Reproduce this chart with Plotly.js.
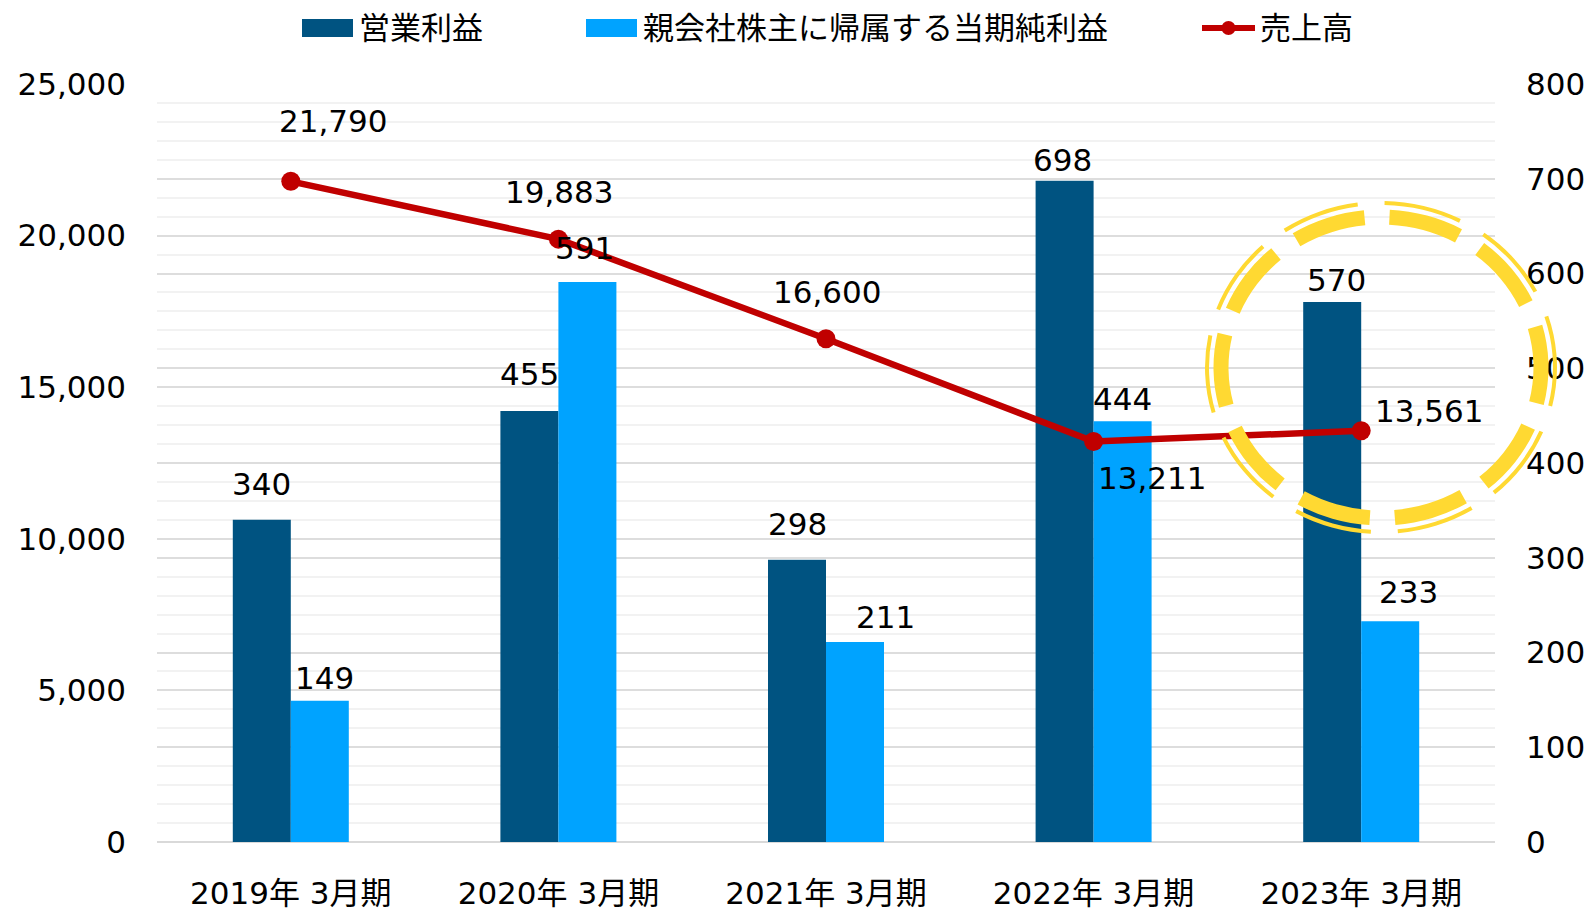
<!DOCTYPE html>
<html>
<head>
<meta charset="utf-8">
<script src="https://cdn.plot.ly/plotly-3.0.1.min.js"></script>
<style>html,body{margin:0;padding:0;background:#fff;}#chart{width:1591px;height:910px;}</style>
</head>
<body>
<div id="chart"></div>
<script>
// ---- data ----
const categories = ['2019年 3月期', '2020年 3月期', '2021年 3月期', '2022年 3月期', '2023年 3月期'];
const operatingIncome = [340, 455, 298, 698, 570];
const netIncome = [149, 591, 211, 444, 233];
const sales = [21790, 19883, 16600, 13211, 13561];
const seriesNames = ['営業利益', '親会社株主に帰属する当期純利益', '売上高'];

// ---- styles ----
const colOp = '#005381';
const colNet = '#00a3ff';
const colSales = '#c00000';
const numFont = 'DejaVu Sans, Verdana, Noto Sans CJK JP, sans-serif';
const jpFont = 'Noto Sans CJK JP, sans-serif';
const fs = 31;
const halfBar = 29;
// label offsets in px: [dx, dy]
const opOffsets = [[0, 36], [0, 37], [0, 36], [-2, 21], [4, 22]];
const netOffsets = [[5, 23], [-3, 34], [30, 25], [0, 22], [18, 29]];
const salesOffsets = [[42, 60], [1, 47], [1, 47], [58, -37], [68, 20]];

const fmt = v => v.toLocaleString('en-US');

const traces = [
  {type: 'bar', x: categories, y: operatingIncome, name: seriesNames[0], marker: {color: colOp}, yaxis: 'y', hoverinfo: 'skip'},
  {type: 'bar', x: categories, y: netIncome, name: seriesNames[1], marker: {color: colNet}, yaxis: 'y', hoverinfo: 'skip'},
  {type: 'scatter', mode: 'lines+markers', x: categories, y: sales, name: seriesNames[2], yaxis: 'y2',
   line: {color: colSales, width: 6.5}, marker: {color: colSales, size: 19}, hoverinfo: 'skip'}
];

const annotations = [];
categories.forEach((c, i) => {
  annotations.push({x: c, y: operatingIncome[i], xref: 'x', yref: 'y', text: fmt(operatingIncome[i]), showarrow: false,
    xanchor: 'center', yanchor: 'middle', xshift: -halfBar + opOffsets[i][0], yshift: opOffsets[i][1],
    font: {family: numFont, size: fs, color: '#000'}});
  annotations.push({x: c, y: netIncome[i], xref: 'x', yref: 'y', text: fmt(netIncome[i]), showarrow: false,
    xanchor: 'center', yanchor: 'middle', xshift: halfBar + netOffsets[i][0], yshift: netOffsets[i][1],
    font: {family: numFont, size: fs, color: '#000'}});
  annotations.push({x: c, y: sales[i], xref: 'x', yref: 'y2', text: fmt(sales[i]), showarrow: false,
    xanchor: 'center', yanchor: 'middle', xshift: salesOffsets[i][0], yshift: salesOffsets[i][1],
    font: {family: numFont, size: fs, color: '#000'}});
});

// custom legend (paper coords computed from pixel positions)
const L = 157, R = 1495, T = 84, B = 842;
const px = x => (x - L) / (R - L);
const py = y => (B - y) / (B - T);
const legendItems = [
  {kind: 'box', color: colOp, x0: 302, x1: 353, text: seriesNames[0], tx: 357},
  {kind: 'box', color: colNet, x0: 586, x1: 637, text: seriesNames[1], tx: 641},
  {kind: 'line', color: colSales, x0: 1202, x1: 1255, text: seriesNames[2], tx: 1258}
];
const shapes = [];
legendItems.forEach(it => {
  if (it.kind === 'box') {
    shapes.push({type: 'rect', xref: 'paper', yref: 'paper', x0: px(it.x0), x1: px(it.x1), y0: py(37), y1: py(19),
      fillcolor: it.color, line: {width: 0}});
  } else {
    shapes.push({type: 'line', xref: 'paper', yref: 'paper', x0: px(it.x0), x1: px(it.x1), y0: py(28), y1: py(28),
      line: {color: it.color, width: 6}});
    const cx = (it.x0 + it.x1) / 2;
    shapes.push({type: 'circle', xref: 'paper', yref: 'paper', x0: px(cx - 7), x1: px(cx + 7), y0: py(35), y1: py(21),
      fillcolor: it.color, line: {width: 0}});
  }
  annotations.push({xref: 'paper', yref: 'paper', x: px(it.tx), y: py(26), xanchor: 'left', yanchor: 'middle',
    text: it.text, showarrow: false, font: {family: jpFont, size: 31, color: '#000'}});
});

// highlight ring (double dashed)
shapes.push({type: 'circle', xref: 'paper', yref: 'paper', layer: 'above',
  x0: px(1221), x1: px(1541), y0: py(518), y1: py(217),
  line: {color: '#ffd932', width: 15, dash: '36px,25px,36px,0px'}});
shapes.push({type: 'circle', xref: 'paper', yref: 'paper', layer: 'above',
  x0: px(1207), x1: px(1555), y0: py(532), y1: py(203),
  line: {color: '#ffd932', width: 4, dash: '39px,27px,39px,0px'}});

const layout = {
  width: 1591, height: 910,
  margin: {l: L, r: 1591 - R, t: T, b: 910 - B, pad: 0},
  paper_bgcolor: '#fff', plot_bgcolor: '#fff',
  showlegend: false,
  barmode: 'group', bargap: 0.5665, bargroupgap: 0,
  font: {family: numFont, size: fs, color: '#000'},
  xaxis: {type: 'category', showgrid: false, ticks: '', tickfont: {family: numFont, size: fs, color: '#000'},
    ticklabelstandoff: 30, showline: false, zeroline: false},
  yaxis: {side: 'right', range: [0, 800], dtick: 100, tickformat: ',', showgrid: true, gridcolor: '#dddddd', gridwidth: 2,
    minor: {dtick: 20, showgrid: true, gridcolor: '#f2f2f2', gridwidth: 2},
    zeroline: true, zerolinecolor: '#d9d9d9', zerolinewidth: 2, ticks: '', ticklabelstandoff: 30,
    tickfont: {family: numFont, size: fs, color: '#000'}, fixedrange: true},
  yaxis2: {overlaying: 'y', side: 'left', range: [0, 25000], dtick: 5000, tickformat: ',', showgrid: true,
    gridcolor: '#dddddd', gridwidth: 2, zeroline: false, ticks: '', ticklabelstandoff: 30,
    tickfont: {family: numFont, size: fs, color: '#000'}},
  annotations: annotations,
  shapes: shapes
};

Plotly.newPlot('chart', traces, layout, {displayModeBar: false, staticPlot: true});
</script>
</body>
</html>
